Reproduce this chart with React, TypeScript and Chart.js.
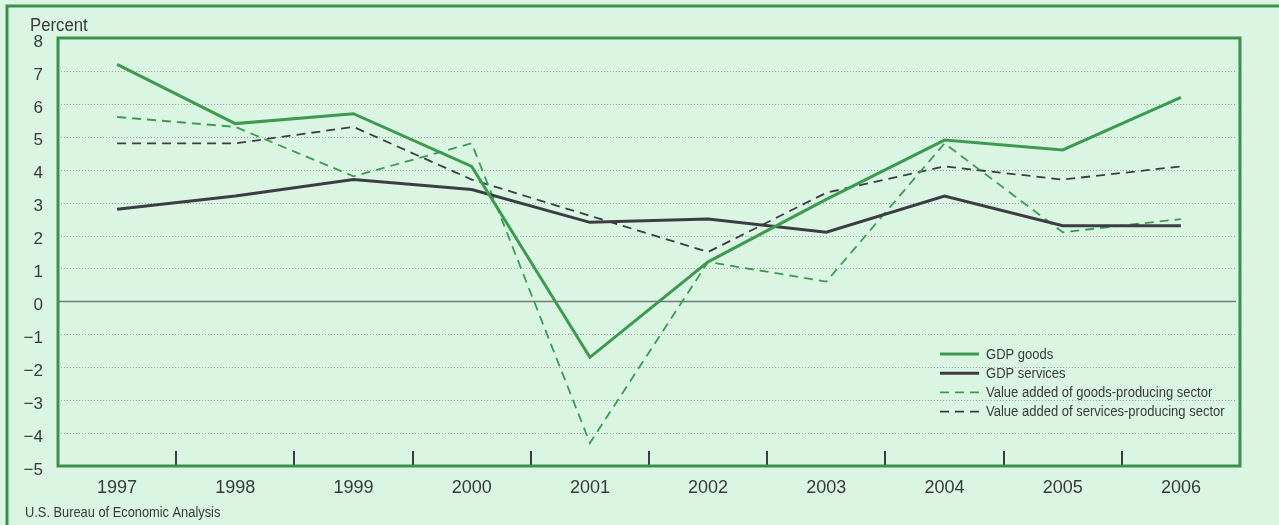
import React, { useEffect, useRef } from 'react';
import { Chart, registerables } from 'chart.js';

Chart.register(...registerables);

const years = ['1997', '1998', '1999', '2000', '2001', '2002', '2003', '2004', '2005', '2006'];
const gdpGoods = [7.2, 5.4, 5.7, 4.1, -1.7, 1.2, 3.1, 4.9, 4.6, 6.2];
const gdpServices = [2.8, 3.2, 3.7, 3.4, 2.4, 2.5, 2.1, 3.2, 2.3, 2.3];
const vaGoods = [5.6, 5.3, 3.8, 4.8, -4.3, 1.2, 0.6, 4.8, 2.1, 2.5];
const vaServices = [4.8, 4.8, 5.3, 3.7, 2.6, 1.5, 3.3, 4.1, 3.7, 4.1];
const yMin = -5;
const yMax = 8;
const yAxisTitle = 'Percent';
const sourceNote = 'U.S. Bureau of Economic Analysis';

const BG = '#daf6e3';
const FRAME_GREEN = '#3a8f4b';
const LINE_GREEN = '#3d9b50';
const DARK = '#3c3c44';
const TEXT = '#3a3a3a';
const SANS = '"Liberation Sans", Arial, Helvetica, sans-serif';

function condensedText(ctx: any, text: string, x: number, y: number, sx: number) {
  ctx.save();
  ctx.translate(x, y);
  ctx.scale(sx, 1);
  ctx.fillText(text, 0, 0);
  ctx.restore();
}

const decorPlugin = {
  id: 'decor',
  beforeDatasetsDraw(chart: any) {
    const { ctx, chartArea } = chart;
    const y = chart.scales.y;
    ctx.save();
    for (let v = yMin + 1; v < yMax; v++) {
      const py = Math.round(y.getPixelForValue(v)) + 0.5;
      ctx.beginPath();
      if (v === 0) {
        ctx.setLineDash([]);
        ctx.strokeStyle = '#6f7873';
        ctx.lineWidth = 1.3;
      } else {
        ctx.setLineDash([1, 2]);
        ctx.strokeStyle = '#98a49e';
        ctx.lineWidth = 1;
      }
      ctx.moveTo(chartArea.left, py);
      ctx.lineTo(chartArea.right - 4, py);
      ctx.stroke();
    }
    ctx.restore();
  },
  afterDatasetsDraw(chart: any) {
    const { ctx, chartArea } = chart;
    const x = chart.scales.x;
    ctx.save();
    ctx.strokeStyle = DARK;
    ctx.lineWidth = 2;
    for (let i = 1; i < years.length; i++) {
      const px = Math.round((x.getPixelForValue(i - 1) + x.getPixelForValue(i)) / 2);
      ctx.beginPath();
      ctx.moveTo(px, chartArea.bottom);
      ctx.lineTo(px, chartArea.bottom - 15);
      ctx.stroke();
    }
    ctx.strokeStyle = FRAME_GREEN;
    ctx.lineWidth = 3;
    ctx.strokeRect(chartArea.left, chartArea.top, chartArea.right - chartArea.left, chartArea.bottom - chartArea.top);
    ctx.restore();
  },
  afterDraw(chart: any) {
    const { ctx, width, height } = chart;
    ctx.save();
    ctx.strokeStyle = FRAME_GREEN;
    ctx.lineWidth = 3;
    ctx.beginPath();
    ctx.moveTo(width, 6);
    ctx.lineTo(7, 6);
    ctx.lineTo(7, height);
    ctx.stroke();

    ctx.fillStyle = TEXT;
    ctx.textBaseline = 'alphabetic';
    ctx.textAlign = 'left';
    ctx.font = `18px ${SANS}`;
    condensedText(ctx, yAxisTitle, 30, 31, 0.93);
    ctx.font = `15px ${SANS}`;
    condensedText(ctx, sourceNote, 25, 517, 0.855);

    const items = chart.data.datasets;
    const lx = 940;
    const ly = 354;
    const rowH = 19.2;
    ctx.font = `14px ${SANS}`;
    ctx.textBaseline = 'middle';
    items.forEach((ds: any, i: number) => {
      const yy = ly + i * rowH;
      ctx.beginPath();
      ctx.strokeStyle = ds.borderColor;
      ctx.lineWidth = ds.borderWidth;
      ctx.setLineDash(ds.borderDash || []);
      ctx.moveTo(lx, yy);
      ctx.lineTo(lx + 39, yy);
      ctx.stroke();
      ctx.setLineDash([]);
      ctx.fillStyle = TEXT;
      condensedText(ctx, ds.label, lx + 46, yy + 1, 0.93);
    });
    ctx.restore();
  },
};

export default function App() {
  const ref = useRef<HTMLCanvasElement | null>(null);

  useEffect(() => {
    if (!ref.current) return;
    const chart = new Chart(ref.current, {
      type: 'line',
      data: {
        labels: years,
        datasets: [
          { label: 'GDP goods', data: gdpGoods, borderColor: LINE_GREEN, borderWidth: 3, pointRadius: 0, fill: false, tension: 0 },
          { label: 'GDP services', data: gdpServices, borderColor: DARK, borderWidth: 3, pointRadius: 0, fill: false, tension: 0 },
          { label: 'Value added of goods-producing sector', data: vaGoods, borderColor: LINE_GREEN, borderWidth: 1.8, borderDash: [9, 6], pointRadius: 0, fill: false, tension: 0 },
          { label: 'Value added of services-producing sector', data: vaServices, borderColor: DARK, borderWidth: 1.8, borderDash: [9, 6], pointRadius: 0, fill: false, tension: 0 },
        ],
      },
      options: {
        responsive: false,
        animation: false,
        devicePixelRatio: 1,
        layout: { padding: { top: 38, right: 39, bottom: 0, left: 0 } },
        plugins: { legend: { display: false }, tooltip: { enabled: false }, title: { display: false } },
        scales: {
          x: {
            type: 'category',
            offset: true,
            grid: { display: false, drawTicks: false },
            border: { display: false },
            ticks: { color: TEXT, font: { family: SANS, size: 18 }, padding: 11, maxRotation: 0, autoSkip: false },
            afterFit: (s: any) => { s.height = 59; },
          },
          y: {
            type: 'linear',
            min: yMin,
            max: yMax,
            grid: { display: false, drawTicks: false },
            border: { display: false },
            ticks: {
              stepSize: 1,
              color: TEXT,
              font: { family: SANS, size: 17 },
              padding: 15,
              labelOffset: 4,
              callback: (v: any) => (Number(v) < 0 ? '\u2212' + Math.abs(Number(v)) : String(v)),
            },
            afterFit: (s: any) => { s.width = 58; },
          },
        },
      },
      plugins: [decorPlugin],
    });
    return () => chart.destroy();
  }, []);

  return (
    <div style={{ position: 'fixed', left: 0, top: 0, width: 1279, height: 525, background: BG, overflow: 'hidden' }}>
      <canvas ref={ref} width={1279} height={525} style={{ display: 'block', width: 1279, height: 525 }} />
    </div>
  );
}
